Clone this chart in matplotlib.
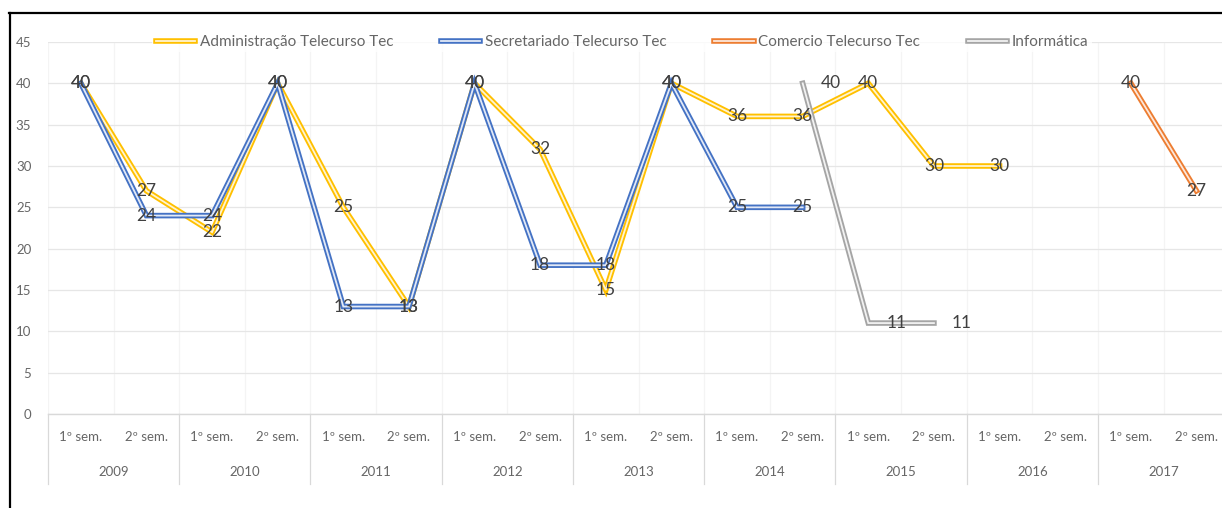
import numpy as np
import matplotlib
matplotlib.use("Agg")
import matplotlib.pyplot as plt
import matplotlib.patheffects as pe
from matplotlib.lines import Line2D

plt.rcParams['font.family'] = ['Lato', 'DejaVu Sans']

nan = np.nan
semesters = ["1º sem.", "2º sem."] * 9
years = ["2009", "2010", "2011", "2012", "2013", "2014", "2015", "2016", "2017"]

series_names = ["Administração Telecurso Tec", "Secretariado Telecurso Tec",
                "Comercio Telecurso Tec", "Informática"]
admin = [40, 27, 22, 40, 25, 13, 40, 32, 15, 40, 36, 36, 40, 30, 30, nan, nan, nan]
secret = [40, 24, 24, 40, 13, 13, 40, 18, 18, 40, 25, 25, nan, nan, nan, nan, nan, nan]
comercio = [nan] * 16 + [40, 27]
informatica = [nan] * 11 + [40, 11, 11] + [nan] * 4

colors = ["#FFC000", "#4472C4", "#ED7D31", "#A5A5A5"]
inner = ["#FFF4D0", "#E2E9F6", "#FCE7DA", "#F2F2F2"]
label_pos = ["center", "center", "center", "right"]

W, H = 1222, 508
fig = plt.figure(figsize=(W / 100, H / 100), dpi=100)
x0, x1 = 48, 1229.25
y0, y1 = 414, 42
ax = fig.add_axes([x0 / W, 1 - y0 / H, (x1 - x0) / W, (y0 - y1) / H])

n = len(semesters)
x = np.arange(n)
ax.set_xlim(-0.5, n - 0.5)
ax.set_ylim(0, 45)

tick_color = "#666666"

# grid
ax.set_yticks(np.arange(0, 46, 5))
ax.yaxis.grid(True, color="#E6E6E6", lw=0.9, zorder=0)
ax.set_xticks(np.arange(-0.5, n, 1.0), minor=True)
ax.xaxis.grid(True, which="minor", color="#F4F4F4", lw=0.9, zorder=0)
ax.set_axisbelow(True)
for s in ["top", "right", "left"]:
    ax.spines[s].set_visible(False)
ax.spines["bottom"].set_color("#D9D9D9")
ax.spines["bottom"].set_linewidth(1.0)

ax.set_xticks(x)
ax.set_xticklabels(semesters, fontsize=9.5, color=tick_color)
ax.tick_params(axis="x", which="both", length=0, pad=12)
ax.tick_params(axis="y", length=0, pad=12, labelsize=9.5, labelcolor=tick_color)

# year labels and separators
trans = matplotlib.transforms.blended_transform_factory(ax.transData, ax.transAxes)
for i, yr in enumerate(years):
    ax.text(2 * i + 0.5, -(472 - 414) / (y0 - y1), yr, transform=trans,
            ha="center", va="center", fontsize=9.5, color=tick_color)
for b in np.arange(-0.5, n, 2.0):
    ax.plot([b, b], [0, -(484 - 414) / (y0 - y1)], transform=trans,
            color="#D9D9D9", lw=0.9, clip_on=False)

all_series = [admin, secret, comercio, informatica]
handles = []
for k, (vals, name) in enumerate(zip(all_series, series_names)):
    v = np.array(vals, dtype=float)
    line, = ax.plot(x, v, color=inner[k], lw=1.3, solid_joinstyle="miter",
                    zorder=3 + k, label=name,
                    path_effects=[pe.Stroke(linewidth=4.0, foreground=colors[k]), pe.Normal()])
    handles.append(line)
    for xi, vi in zip(x, v):
        if np.isnan(vi):
            continue
        if label_pos[k] == "right":
            ax.annotate(f"{int(vi)}", (xi, vi), xytext=(13, 0), textcoords="offset points",
                        ha="left", va="center", fontsize=12.5, color="#404040", zorder=10)
        else:
            ax.annotate(f"{int(vi)}", (xi, vi), ha="center", va="center",
                        fontsize=12.5, color="#404040", zorder=10)

leg = fig.legend(handles=handles, loc="center", bbox_to_anchor=(622 / W, 1 - 42 / H),
                 ncol=4, frameon=True, fontsize=11, handlelength=2.6,
                 columnspacing=3.1, handletextpad=0.3, borderpad=0.2)
leg.get_frame().set_facecolor("white")
leg.get_frame().set_edgecolor("none")
for t in leg.get_texts():
    t.set_color(tick_color)

# black border (top and left)
fig.add_artist(Line2D([9 / W, 1], [1 - 13 / H, 1 - 13 / H], transform=fig.transFigure,
                      color="black", lw=1.6))
fig.add_artist(Line2D([10 / W, 10 / W], [0, 1 - 13 / H], transform=fig.transFigure,
                      color="black", lw=1.6))

fig.savefig("out.png", dpi=100, facecolor="white")
